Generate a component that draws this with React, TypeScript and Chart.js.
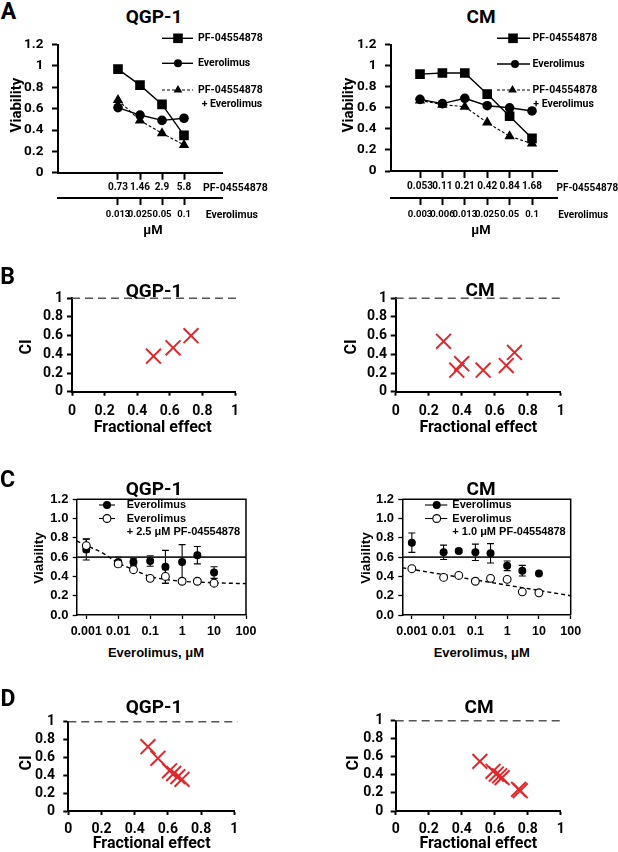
import React, { useEffect, useRef } from 'react';
import { Chart, registerables } from 'chart.js';
Chart.register(...registerables);

const CAL = 'Roboto, "Open Sans", sans-serif';
const ARI = '"Liberation Sans", Arial, sans-serif';
const RED = '#e0282c';

// ---------------- Panel A data ----------------
const aQgpPfDose = ['0.73', '1.46', '2.9', '5.8'];
const aQgpEveDose = ['0.013', '0.025', '0.05', '0.1'];
const aQgpPf = [0.97, 0.82, 0.64, 0.35];
const aQgpEve = [0.61, 0.54, 0.49, 0.51];
const aQgpCombo = [0.68, 0.49, 0.37, 0.26];

const aCmPfDose = ['0.053', '0.11', '0.21', '0.42', '0.84', '1.68'];
const aCmEveDose = ['0.003', '0.006', '0.013', '0.025', '0.05', '0.1'];
const aCmPf = [0.92, 0.93, 0.93, 0.73, 0.52, 0.31];
const aCmEve = [0.68, 0.64, 0.69, 0.62, 0.6, 0.57];
const aCmCombo = [0.67, 0.63, 0.61, 0.46, 0.33, 0.26];

const viabTicksA = [0, 0.2, 0.4, 0.6, 0.8, 1, 1.2];
const viabLabelsA = ['0', '0.2', '0.4', '0.6', '0.8', '1', '1.2'];

// ---------------- Panel B data ----------------
const bQgpFa = [0.5, 0.62, 0.73];
const bQgpCI = [0.38, 0.47, 0.6];
const bCmFa = [0.29, 0.37, 0.4, 0.53, 0.67, 0.72];
const bCmCI = [0.54, 0.23, 0.3, 0.23, 0.28, 0.42];

const unitTicks = [0, 0.2, 0.4, 0.6, 0.8, 1];
const unitLabels = ['0', '0.2', '0.4', '0.6', '0.8', '1'];
const ciRef = 1;

// ---------------- Panel C data ----------------
const cDose = [0.001, 0.01, 0.03, 0.1, 0.3, 1, 3, 10];
const cDoseTicks = [0.001, 0.01, 0.1, 1, 10, 100];
const cDoseLabels = ['0.001', '0.01', '0.1', '1', '10', '100'];
const viabTicksC = [0, 0.2, 0.4, 0.6, 0.8, 1, 1.2];
const viabLabelsC = ['0.0', '0.2', '0.4', '0.6', '0.8', '1.0', '1.2'];
const cViabRef = 0.6;

const cQgpEve = [0.68, 0.55, 0.55, 0.56, 0.5, 0.55, 0.62, 0.44];
const cQgpEveErr = [0.11, 0.05, 0.04, 0.055, 0.17, 0.18, 0.09, 0.06];
const cQgpCombo = [0.72, 0.53, 0.47, 0.38, 0.4, 0.35, 0.35, 0.33];
const cQgpComboErr = [0.065, 0.02, 0.02, 0.02, 0.07, 0.02, 0.02, 0.02];
const cQgpFitX = [0.0005, 0.001, 0.003, 0.01, 0.03, 0.1, 0.3, 1, 10, 100];
const cQgpFitY = [0.77, 0.72, 0.65, 0.54, 0.47, 0.4, 0.37, 0.35, 0.335, 0.325];

const cCmEve = [0.75, 0.65, 0.665, 0.65, 0.64, 0.51, 0.46, 0.43];
const cCmEveErr = [0.1, 0.075, 0.02, 0.085, 0.1, 0.05, 0.055, 0.0];
const cCmCombo = [0.48, 0.39, 0.41, 0.35, 0.38, 0.37, 0.24, 0.23];
const cCmComboErr = [0.0, 0.0, 0.0, 0.0, 0.0, 0.0, 0.0, 0.0];
const cCmFitX = [0.0005, 100];
const cCmFitY = [0.49, 0.2];

// ---------------- Panel D data ----------------
const dQgpFa = [0.48, 0.54, 0.61, 0.635, 0.66, 0.685];
const dQgpCI = [0.72, 0.59, 0.45, 0.42, 0.385, 0.355];
const dCmFa = [0.51, 0.59, 0.61, 0.63, 0.645, 0.745, 0.755];
const dCmCI = [0.55, 0.44, 0.41, 0.39, 0.37, 0.24, 0.225];

// ---------------- helpers ----------------
type Box = { left: number; top: number; width: number; height: number };
type Area = { l: number; t: number; r: number; b: number };

function layoutFor(cv: Box, a: Area, xh: number[]) {
  return {
    yW: a.l - cv.left,
    padding: {
      left: 0,
      top: a.t - cv.top,
      right: cv.left + cv.width - a.r,
      bottom: cv.top + cv.height - a.b - xh.reduce((s, v) => s + v, 0),
    },
  };
}

function marker(ctx: CanvasRenderingContext2D, kind: string, x: number, y: number, r: number, fill: string, stroke?: string, lw = 1) {
  ctx.beginPath();
  if (kind === 'rect') ctx.rect(x - r, y - r, 2 * r, 2 * r);
  else if (kind === 'circle') ctx.arc(x, y, r, 0, Math.PI * 2);
  else {
    ctx.moveTo(x, y - r);
    ctx.lineTo(x + r * 0.866, y + r * 0.5);
    ctx.lineTo(x - r * 0.866, y + r * 0.5);
    ctx.closePath();
  }
  ctx.fillStyle = fill;
  ctx.fill();
  if (stroke) {
    ctx.strokeStyle = stroke;
    ctx.lineWidth = lw;
    ctx.stroke();
  }
}

const tickFix = (vals: number[]) => (s: any) => {
  s.ticks = vals.map((v) => ({ value: v }));
};

function Plot({ cv, build }: { cv: Box; build: () => any }) {
  const ref = useRef<HTMLCanvasElement | null>(null);
  useEffect(() => {
    const chart = new Chart(ref.current as HTMLCanvasElement, build());
    return () => chart.destroy();
  }, []);
  return (
    <canvas
      ref={ref}
      width={cv.width}
      height={cv.height}
      style={{ position: 'absolute', left: cv.left, top: cv.top, width: cv.width, height: cv.height }}
    />
  );
}

const baseOpts = {
  responsive: false,
  animation: false,
  devicePixelRatio: 1,
  events: [],
};

// ---------------- Panel A ----------------
type LegItem = { y: number; x1: number; x2: number; mx: number; kind: string; r: number; dash?: number[]; tx: number; text: string };

function buildA(cv: Box, area: Area, xMin: number, xMax: number, pf: number[], eve: number[], combo: number[], pfDose: string[], eveDose: string[], leg: LegItem[], extra: { x: number; y: number; text: string }) {
  const h1 = 198 - area.b;
  const h2 = 28;
  const lay = layoutFor(cv, area, [h1, h2]);
  const pts = (arr: number[]) => arr.map((v, i) => ({ x: i, y: v }));
  const tickFont = (s: number) => ({ family: CAL, size: s, weight: 'bold' as const });
  const xTicks = pfDose.map((_, i) => i);
  const gridX = { drawOnChartArea: false, drawTicks: true, tickLength: 7, tickColor: '#000', tickWidth: 2 };
  return {
    type: 'line',
    data: {
      datasets: [
        { data: pts(pf), borderColor: '#000', borderWidth: 1.4, pointStyle: 'rect', pointRadius: 6.8, pointBackgroundColor: '#000', pointBorderColor: '#000', pointBorderWidth: 0, order: 0 },
        { data: pts(eve), borderColor: '#000', borderWidth: 1.4, pointStyle: 'circle', pointRadius: 4.8, pointBackgroundColor: '#000', pointBorderColor: '#000', pointBorderWidth: 0, order: 1 },
        { data: pts(combo), borderColor: '#000', borderWidth: 1.1, borderDash: [3, 2], pointStyle: 'triangle', pointRadius: 6, pointBackgroundColor: '#000', pointBorderColor: '#000', pointBorderWidth: 0, order: 2 },
      ],
    },
    options: {
      ...baseOpts,
      layout: { padding: lay.padding },
      plugins: { legend: { display: false }, tooltip: { enabled: false } },
      scales: {
        x: {
          type: 'linear', position: 'bottom', min: xMin, max: xMax, weight: 0,
          afterBuildTicks: tickFix(xTicks),
          afterFit: (s: any) => { s.height = h1; },
          ticks: { autoSkip: false, maxRotation: 0, minRotation: 0, padding: 2, color: '#000', font: tickFont(10), callback: (_v: any, i: number) => pfDose[i] },
          grid: gridX,
          border: { display: true, color: '#000', width: 2 },
        },
        x2: {
          type: 'linear', position: 'bottom', min: xMin, max: xMax, weight: 1,
          afterBuildTicks: tickFix(xTicks),
          afterFit: (s: any) => { s.height = h2; },
          ticks: { autoSkip: false, maxRotation: 0, minRotation: 0, padding: 4, color: '#000', font: tickFont(9.5), callback: (_v: any, i: number) => eveDose[i] },
          grid: gridX,
          border: { display: true, color: '#000', width: 2 },
        },
        y: {
          type: 'linear', min: 0, max: 1.2,
          afterBuildTicks: tickFix(viabTicksA),
          afterFit: (s: any) => { s.width = lay.yW; },
          ticks: { autoSkip: false, padding: 8.5, color: '#000', font: tickFont(13.5), callback: (_v: any, i: number) => viabLabelsA[i] },
          grid: { drawOnChartArea: false, drawTicks: true, tickLength: 6, tickColor: '#000', tickWidth: 2 },
          border: { display: true, color: '#000', width: 2 },
        },
      },
    },
    plugins: [
      {
        id: 'legA',
        afterDraw(chart: any) {
          const ctx = chart.ctx as CanvasRenderingContext2D;
          ctx.save();
          for (const it of leg) {
            const y = it.y - cv.top;
            ctx.beginPath();
            ctx.setLineDash(it.dash || []);
            ctx.strokeStyle = '#000';
            ctx.lineWidth = it.dash ? 1.1 : 1.4;
            ctx.moveTo(it.x1 - cv.left, y);
            ctx.lineTo(it.x2 - cv.left, y);
            ctx.stroke();
            ctx.setLineDash([]);
            marker(ctx, it.kind, it.mx - cv.left, y, it.r, '#000');
            ctx.fillStyle = '#000';
            ctx.font = `bold 10.5px ${CAL}`;
            ctx.textBaseline = 'middle';
            ctx.textAlign = 'left';
            ctx.fillText(it.text, it.tx - cv.left, y);
          }
          ctx.fillText(extra.text, extra.x - cv.left, extra.y - cv.top);
          ctx.restore();
        },
      },
    ],
  };
}

// ---------------- Panels B / D ----------------
function buildCI(cv: Box, area: Area, fa: number[], ci: number[], xLabPad: number, yLabPad: number, refEnd: number) {
  const xh = 30;
  const lay = layoutFor(cv, area, [xh]);
  const f = { family: CAL, size: 14, weight: 'bold' as const };
  return {
    type: 'line',
    data: {
      datasets: [
        { data: fa.map((v, i) => ({ x: v, y: ci[i] })), showLine: false, pointStyle: 'crossRot', pointRadius: 10.5, pointBorderColor: RED, pointBackgroundColor: RED, pointBorderWidth: 2, order: 0 },
        { data: [{ x: 0, y: ciRef }, { x: refEnd, y: ciRef }], borderColor: '#555', borderWidth: 1.6, borderDash: [8, 5], pointRadius: 0, clip: false, order: 1 },
      ],
    },
    options: {
      ...baseOpts,
      layout: { padding: lay.padding },
      plugins: { legend: { display: false }, tooltip: { enabled: false } },
      scales: {
        x: {
          type: 'linear', min: 0, max: 1,
          afterBuildTicks: tickFix(unitTicks),
          afterFit: (s: any) => { s.height = xh; },
          ticks: { autoSkip: false, maxRotation: 0, minRotation: 0, padding: xLabPad, color: '#000', font: f, callback: (_v: any, i: number) => unitLabels[i] },
          grid: { drawOnChartArea: false, drawTicks: true, tickLength: 4, tickColor: '#000', tickWidth: 2 },
          border: { display: true, color: '#000', width: 2 },
        },
        y: {
          type: 'linear', min: 0, max: 1,
          afterBuildTicks: tickFix(unitTicks),
          afterFit: (s: any) => { s.width = lay.yW; },
          ticks: { autoSkip: false, padding: yLabPad, color: '#000', font: f, callback: (_v: any, i: number) => unitLabels[i] },
          grid: { drawOnChartArea: false, drawTicks: true, tickLength: 5, tickColor: '#000', tickWidth: 2 },
          border: { display: true, color: '#000', width: 2 },
        },
      },
    },
  };
}

// ---------------- Panel C ----------------
function buildC(cv: Box, area: Area, eve: number[], eveErr: number[], combo: number[], comboErr: number[], fitX: number[], fitY: number[], legX: { lx1: number; lx2: number; mx: number; tx: number }, legText3: string) {
  const xh = 25;
  const lay = layoutFor(cv, area, [xh]);
  const xMin = Math.pow(10, -3.3);
  const xMax = 100;
  const f = (s: number) => ({ family: ARI, size: s, weight: 'bold' as const });
  return {
    type: 'line',
    data: {
      datasets: [
        { data: cDose.map((d, i) => ({ x: d, y: combo[i] })), showLine: false, pointStyle: 'circle', pointRadius: 3.9, pointBackgroundColor: '#fff', pointBorderColor: '#000', pointBorderWidth: 1.1, order: 0 },
        { data: cDose.map((d, i) => ({ x: d, y: eve[i] })), showLine: false, pointStyle: 'circle', pointRadius: 4, pointBackgroundColor: '#000', pointBorderColor: '#000', pointBorderWidth: 0, order: 1 },
        { data: fitX.map((d, i) => ({ x: d, y: fitY[i] })), borderColor: '#000', borderWidth: 1.4, borderDash: [4, 3], pointRadius: 0, cubicInterpolationMode: 'monotone', order: 2 },
        { data: [{ x: xMin, y: cViabRef }, { x: xMax, y: cViabRef }], borderColor: '#222', borderWidth: 1.6, pointRadius: 0, order: 3 },
      ],
    },
    options: {
      ...baseOpts,
      layout: { padding: lay.padding },
      plugins: { legend: { display: false }, tooltip: { enabled: false } },
      scales: {
        x: {
          type: 'logarithmic', min: xMin, max: xMax,
          afterBuildTicks: tickFix(cDoseTicks),
          afterFit: (s: any) => { s.height = xh; },
          ticks: { autoSkip: false, maxRotation: 0, minRotation: 0, padding: 5, color: '#000', font: f(12.5), callback: (_v: any, i: number) => cDoseLabels[i] },
          grid: { drawOnChartArea: false, drawTicks: true, tickLength: 4, tickColor: '#000', tickWidth: 1.3 },
          border: { display: true, color: '#000', width: 1.5 },
        },
        y: {
          type: 'linear', min: 0, max: 1.2,
          afterBuildTicks: tickFix(viabTicksC),
          afterFit: (s: any) => { s.width = lay.yW; },
          ticks: { autoSkip: false, padding: 4.3, color: '#000', font: f(13), callback: (_v: any, i: number) => viabLabelsC[i] },
          grid: { drawOnChartArea: false, drawTicks: true, tickLength: 4, tickColor: '#000', tickWidth: 1.3 },
          border: { display: true, color: '#000', width: 1.5 },
        },
      },
    },
    plugins: [
      {
        id: 'errbars',
        beforeDatasetsDraw(chart: any) {
          const ctx = chart.ctx as CanvasRenderingContext2D;
          const xs = chart.scales.x;
          const ys = chart.scales.y;
          ctx.save();
          ctx.strokeStyle = '#000';
          ctx.lineWidth = 1.1;
          const draw = (vals: number[], errs: number[]) => {
            cDose.forEach((d, i) => {
              if (!errs[i]) return;
              const px = xs.getPixelForValue(d);
              const y1 = ys.getPixelForValue(vals[i] + errs[i]);
              const y2 = ys.getPixelForValue(vals[i] - errs[i]);
              ctx.beginPath();
              ctx.moveTo(px, y1);
              ctx.lineTo(px, y2);
              ctx.moveTo(px - 3.5, y1);
              ctx.lineTo(px + 3.5, y1);
              ctx.moveTo(px - 3.5, y2);
              ctx.lineTo(px + 3.5, y2);
              ctx.stroke();
            });
          };
          draw(combo, comboErr);
          draw(eve, eveErr);
          ctx.restore();
        },
      },
      {
        id: 'frameLeg',
        afterDraw(chart: any) {
          const ctx = chart.ctx as CanvasRenderingContext2D;
          const a = chart.chartArea;
          ctx.save();
          ctx.strokeStyle = '#000';
          ctx.lineWidth = 1.5;
          ctx.beginPath();
          ctx.moveTo(a.left, a.top);
          ctx.lineTo(a.right, a.top);
          ctx.lineTo(a.right, a.bottom);
          ctx.stroke();
          // legend
          const ox = cv.left;
          const oy = cv.top;
          ctx.lineWidth = 1.1;
          const rows = [505, 518.5];
          rows.forEach((ry, k) => {
            ctx.beginPath();
            ctx.moveTo(legX.lx1 - ox, ry - oy);
            ctx.lineTo(legX.lx2 - ox, ry - oy);
            ctx.stroke();
            if (k === 0) marker(ctx, 'circle', legX.mx - ox, ry - oy, 4, '#000');
            else marker(ctx, 'circle', legX.mx - ox, ry - oy, 3.9, '#fff', '#000', 1.1);
          });
          ctx.fillStyle = '#000';
          ctx.font = `bold 11px ${ARI}`;
          ctx.textBaseline = 'middle';
          ctx.textAlign = 'left';
          ctx.fillText('Everolimus', legX.tx - ox, 505 - oy);
          ctx.fillText('Everolimus', legX.tx - ox, 518.5 - oy);
          ctx.fillText(legText3, legX.tx - ox, 532 - oy);
          ctx.restore();
        },
      },
    ],
  };
}

// ---------------- HTML labels ----------------
function T({ x, y, s, f = CAL, rot = false, left = false, children }: { x: number; y: number; s: number; f?: string; rot?: boolean; left?: boolean; children: React.ReactNode }) {
  const tr = (left ? 'translate(0,-50%)' : 'translate(-50%,-50%)') + (rot ? ' rotate(-90deg)' : '');
  return (
    <div style={{ position: 'absolute', left: x, top: y, transform: tr, fontFamily: f, fontSize: s, fontWeight: 700, lineHeight: 1, whiteSpace: 'nowrap', color: '#000' }}>
      {children}
    </div>
  );
}

// ---------------- layout boxes ----------------
const cvAL: Box = { left: 0, top: 28, width: 300, height: 200 };
const arAL: Area = { l: 58, t: 42, r: 222, b: 172.7 };
const cvAR: Box = { left: 300, top: 28, width: 318, height: 200 };
const arAR: Area = { l: 391, t: 42, r: 557, b: 171 };
const cvBL: Box = { left: 0, top: 285, width: 300, height: 140 };
const arBL: Area = { l: 72, t: 298.3, r: 235, b: 391.7 };
const cvBR: Box = { left: 300, top: 285, width: 318, height: 140 };
const arBR: Area = { l: 395.7, t: 298.3, r: 560.7, b: 391.7 };
const cvCL: Box = { left: 0, top: 486, width: 300, height: 156 };
const arCL: Area = { l: 76.7, t: 499.3, r: 246, b: 615 };
const cvCR: Box = { left: 300, top: 486, width: 318, height: 156 };
const arCR: Area = { l: 402.3, t: 499.3, r: 570.7, b: 615 };
const cvDL: Box = { left: 0, top: 705, width: 300, height: 140 };
const arDL: Area = { l: 68.3, t: 717.7, r: 234.3, b: 811 };
const cvDR: Box = { left: 300, top: 705, width: 318, height: 140 };
const arDR: Area = { l: 395.7, t: 717.7, r: 560.7, b: 811 };

const legAL: LegItem[] = [
  { y: 38.3, x1: 162, x2: 193, mx: 178, kind: 'rect', r: 4.8, tx: 198, text: 'PF-04554878' },
  { y: 63.3, x1: 162, x2: 193, mx: 178, kind: 'circle', r: 4, tx: 198, text: 'Everolimus' },
  { y: 90, x1: 162, x2: 193, mx: 178, kind: 'triangle', r: 5, dash: [3, 2], tx: 198, text: 'PF-04554878' },
];
const legAR: LegItem[] = [
  { y: 38.3, x1: 497, x2: 530, mx: 513, kind: 'rect', r: 4.8, tx: 532.5, text: 'PF-04554878' },
  { y: 64, x1: 497, x2: 530, mx: 515, kind: 'circle', r: 4, tx: 532.5, text: 'Everolimus' },
  { y: 90, x1: 497, x2: 530, mx: 512.5, kind: 'triangle', r: 5, dash: [3, 2], tx: 532.5, text: 'PF-04554878' },
];

export default function App() {
  return (
    <div style={{ position: 'absolute', left: 0, top: 0, width: 618, height: 852, background: '#fff', overflow: 'hidden' }}>
      <Plot cv={cvAL} build={() => buildA(cvAL, arAL, -2.727, 4.727, aQgpPf, aQgpEve, aQgpCombo, aQgpPfDose, aQgpEveDose, legAL, { x: 201.7, y: 104, text: '+ Everolimus' })} />
      <Plot cv={cvAR} build={() => buildA(cvAR, arAR, -1.295, 6.116, aCmPf, aCmEve, aCmCombo, aCmPfDose, aCmEveDose, legAR, { x: 533.3, y: 104.5, text: '+ Everolimus' })} />
      <Plot cv={cvBL} build={() => buildCI(cvBL, arBL, bQgpFa, bQgpCI, 6.9, 4, 1.012)} />
      <Plot cv={cvBR} build={() => buildCI(cvBR, arBR, bCmFa, bCmCI, 6.9, 3.7, 1.012)} />
      <Plot cv={cvCL} build={() => buildC(cvCL, arCL, cQgpEve, cQgpEveErr, cQgpCombo, cQgpComboErr, cQgpFitX, cQgpFitY, { lx1: 99, lx2: 115, mx: 107, tx: 126.7 }, '+ 2.5 μM PF-04554878')} />
      <Plot cv={cvCR} build={() => buildC(cvCR, arCR, cCmEve, cCmEveErr, cCmCombo, cCmComboErr, cCmFitX, cCmFitY, { lx1: 425, lx2: 447.3, mx: 436.7, tx: 452.3 }, '+ 1.0 μM PF-04554878')} />
      <Plot cv={cvDL} build={() => buildCI(cvDL, arDL, dQgpFa, dQgpCI, 5.6, 8.3, 1.02)} />
      <Plot cv={cvDR} build={() => buildCI(cvDR, arDR, dCmFa, dCmCI, 5.6, 7.4, 1.01)} />

      <T x={8.5} y={11} s={23}>A</T>
      <T x={7.5} y={276} s={23}>B</T>
      <T x={7.5} y={479} s={23}>C</T>
      <T x={8} y={697.5} s={23}>D</T>

      <T x={154} y={15.5} s={19}>QGP-1</T>
      <T x={481} y={16} s={19}>CM</T>
      <T x={154} y={290} s={19}>QGP-1</T>
      <T x={480} y={289} s={19}>CM</T>
      <T x={154} y={487.5} s={19}>QGP-1</T>
      <T x={481} y={487.5} s={19}>CM</T>
      <T x={154} y={706} s={19}>QGP-1</T>
      <T x={479} y={706} s={19}>CM</T>

      <T x={16} y={105} s={15} rot>Viability</T>
      <T x={347.5} y={105} s={15} rot>Viability</T>
      <T x={203} y={188} s={10.5} left>PF-04554878</T>
      <T x={205.7} y={215} s={10.5} left>Everolimus</T>
      <T x={556.5} y={188} s={10} left>PF-04554878</T>
      <T x={558.3} y={215} s={10} left>Everolimus</T>
      <T x={153} y={229} s={13}>μM</T>
      <T x={481} y={229} s={13}>μM</T>

      <T x={25.5} y={346.7} s={16} rot>CI</T>
      <T x={350.8} y={346.7} s={16} rot>CI</T>
      <T x={152.7} y={426.7} s={16}>Fractional effect</T>
      <T x={478.3} y={426.7} s={16}>Fractional effect</T>

      <T x={39} y={557.5} s={13.5} f={ARI} rot>Viability</T>
      <T x={366} y={558} s={13.5} f={ARI} rot>Viability</T>
      <T x={156} y={651.7} s={13} f={ARI}>Everolimus, μM</T>
      <T x={481.7} y={651.7} s={13} f={ARI}>Everolimus, μM</T>

      <T x={26} y={763.3} s={16} rot>CI</T>
      <T x={352.5} y={763} s={16} rot>CI</T>
      <T x={151.7} y={843.3} s={16}>Fractional effect</T>
      <T x={478.3} y={843} s={16}>Fractional effect</T>
    </div>
  );
}
